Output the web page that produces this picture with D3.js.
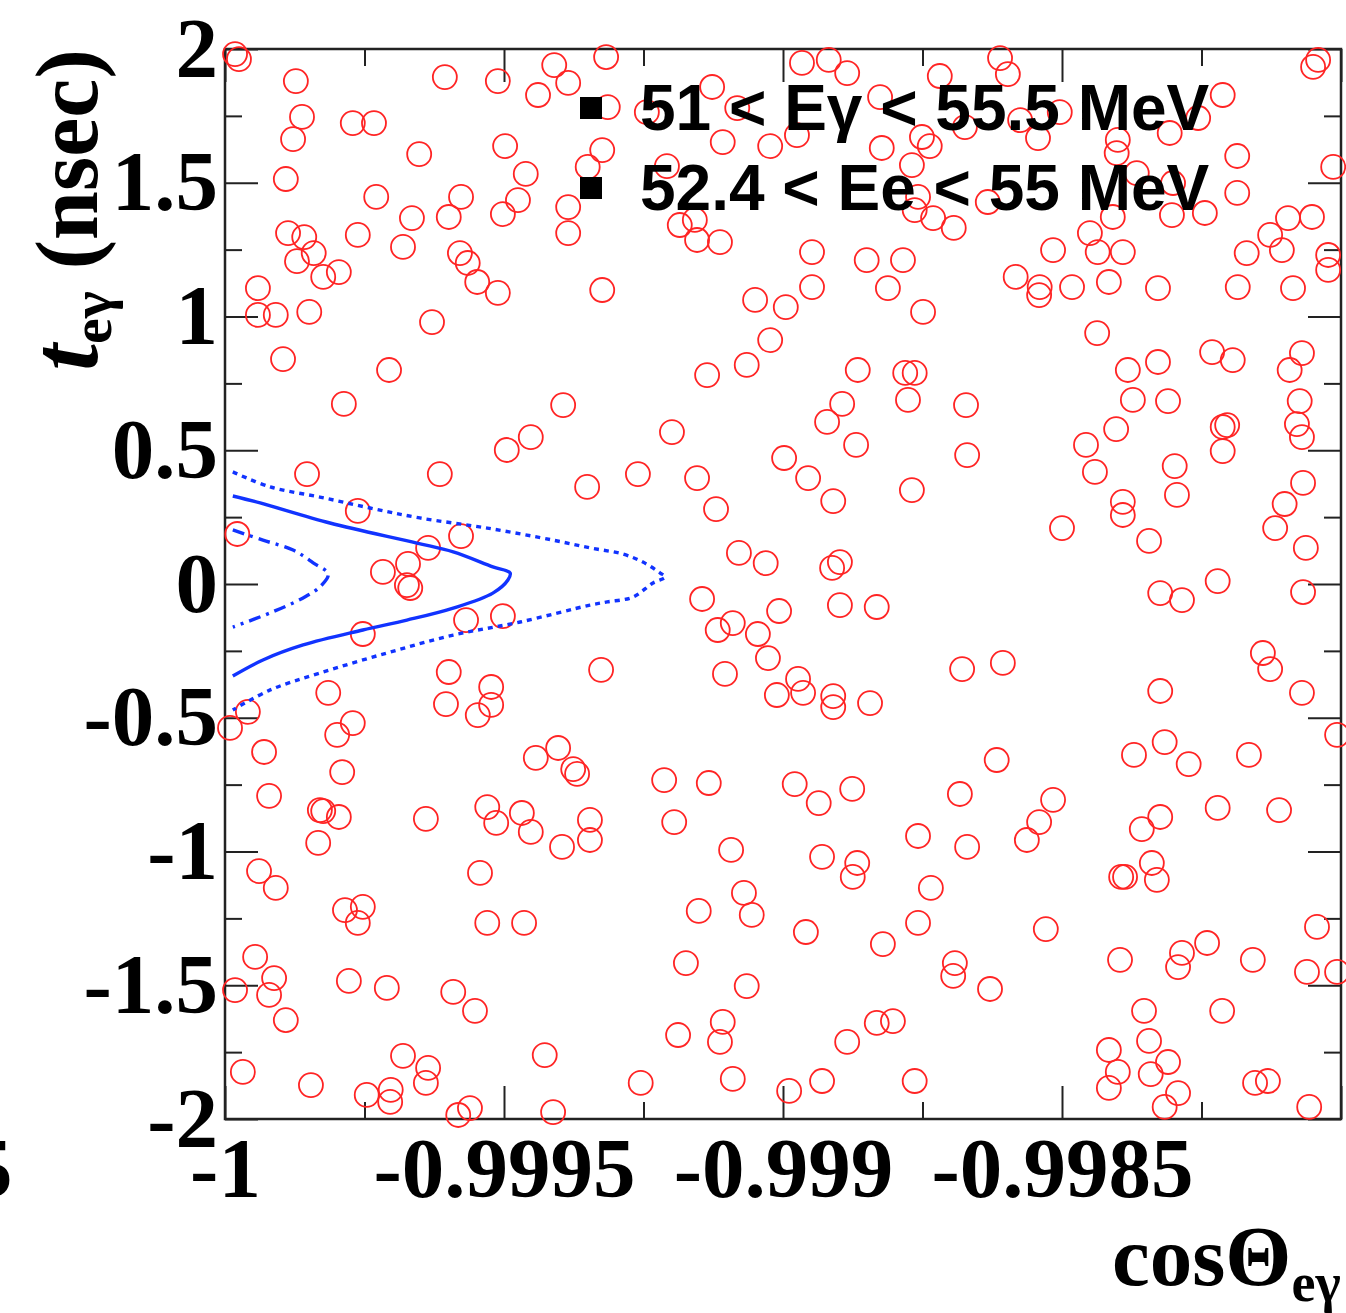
<!DOCTYPE html>
<html lang="en">
<head>
<meta charset="UTF-8">
<title>t_eγ vs cosΘ_eγ</title>
<script src="https://d3js.org/d3.v7.min.js"></script>
<style>
  body { margin: 0; background: #fff; }
  svg { display: block; }
</style>
</head>
<body>
<div id="chart"></div>
<script>
// events: [ (1 + cosΘ_eγ) in units of 1e-4 , t_eγ in nsec ]
var events = [
  [0.18,1.981],[0.25,1.962],[1.27,1.880],[3.94,1.895],[4.89,1.880],[5.90,1.940],[6.15,1.873],[5.61,1.828],
  [1.38,1.746],[2.29,1.723],[2.67,1.723],[1.22,1.663],[3.48,1.607],[5.02,1.637],[6.50,1.559],[5.39,1.533],
  [1.09,1.514],[2.71,1.447],[4.23,1.447],[5.25,1.435],[3.35,1.368],[4.01,1.372],[4.98,1.383],[6.15,1.409],
  [6.15,1.312],[1.13,1.312],[1.42,1.297],[2.38,1.305],[3.19,1.260],[1.59,1.237],[1.29,1.207],[4.21,1.237],
  [4.35,1.200],[4.52,1.129],[4.89,1.088],[1.76,1.148],[2.04,1.166],[0.59,1.106],[0.59,1.006],[0.91,1.006],
  [1.51,1.017],[3.71,0.979],[6.76,1.099],[1.04,0.841],[2.94,0.800],[2.13,0.673],[6.06,0.669],[6.83,1.970],
  // upper middle
  [6.86,1.783],[6.76,1.622],[8.73,1.858],[7.56,1.764],[9.18,1.779],[10.34,1.948],[10.82,1.959],[11.15,1.910],
  [11.74,1.820],[12.81,1.899],[13.26,1.708],[8.92,1.652],[9.77,1.637],[10.25,1.678],[11.77,1.630],[12.49,1.671],
  [12.63,1.637],[12.31,1.566],[7.92,1.562],[12.42,1.447],[12.36,1.398],[12.69,1.368],[13.06,1.331],[8.15,1.342],
  [8.42,1.361],[8.46,1.286],[8.87,1.278],[10.52,1.241],[11.50,1.211],[12.15,1.211],[10.52,1.110],[9.50,1.062],
  [10.05,1.035],[11.88,1.106],[12.51,1.017],[9.77,0.912],[9.35,0.819],[8.64,0.781],[11.34,0.800],[12.19,0.789],
  [12.36,0.789],[12.24,0.688],[11.06,0.673],[13.28,0.669],
  // upper right
  [13.89,1.966],[14.03,1.906],[19.50,1.933],[19.59,1.959],[17.88,1.828],[14.96,1.764],[14.25,1.734],[14.57,1.667],
  [17.44,1.742],[16.93,1.686],[16.00,1.660],[15.98,1.611],[18.14,1.600],[19.86,1.559],[16.34,1.536],[16.99,1.499],
  [18.14,1.462],[13.67,1.428],[15.91,1.372],[16.97,1.379],[17.56,1.387],[15.50,1.312],[14.84,1.248],[15.64,1.241],
  [16.09,1.241],[19.05,1.368],[19.48,1.372],[18.73,1.305],[18.94,1.248],[18.31,1.237],[19.77,1.230],[19.77,1.174],
  [14.17,1.148],[14.60,1.110],[14.59,1.080],[15.18,1.110],[15.84,1.129],[16.72,1.106],[18.15,1.110],[19.14,1.106],
  [15.63,0.938],[17.69,0.867],[18.06,0.837],[19.30,0.863],[19.08,0.800],[16.18,0.800],[16.72,0.830],[16.27,0.688],
  [16.90,0.684],[19.26,0.684],
  // middle left
  [5.48,0.549],[5.05,0.501],[6.49,0.363],[1.47,0.411],[3.85,0.411],[2.38,0.273],[4.23,0.179],[0.22,0.187],
  [3.64,0.135],[3.28,0.075],[2.83,0.045],[3.26,-0.004],[3.32,-0.015],[4.32,-0.135],[4.98,-0.120],[2.47,-0.187],
  [4.01,-0.329],[6.74,-0.321],[1.85,-0.407],[4.77,-0.385],[4.77,-0.452],[4.53,-0.490],[3.96,-0.449],[0.41,-0.478],
  [0.09,-0.538],[2.29,-0.520],[2.01,-0.564],[0.70,-0.628],[5.57,-0.650],[5.97,-0.613],[2.10,-0.703],[6.24,-0.692],
  [6.31,-0.710],
  // middle
  [10.79,0.606],[8.01,0.568],[11.31,0.520],[13.30,0.482],[10.02,0.471],[10.45,0.396],[10.90,0.310],[12.31,0.351],
  [7.40,0.411],[8.46,0.396],[8.80,0.280],[9.21,0.116],[9.69,0.078],[11.02,0.082],[10.88,0.060],[8.55,-0.056],
  [9.93,-0.101],[11.02,-0.079],[11.68,-0.086],[9.10,-0.146],[8.83,-0.172],[9.55,-0.187],[9.73,-0.277],[8.96,-0.336],
  [13.21,-0.318],[10.27,-0.355],[9.89,-0.415],[10.36,-0.407],[10.90,-0.419],[10.90,-0.460],[11.56,-0.445],
  // middle right
  [15.97,0.579],[15.43,0.520],[15.59,0.419],[17.88,0.587],[17.96,0.594],[17.88,0.497],[19.21,0.598],[19.30,0.549],
  [17.02,0.441],[17.06,0.333],[16.09,0.307],[16.09,0.258],[19.32,0.378],[18.99,0.299],[18.82,0.209],[15.00,0.209],
  [16.56,0.161],[19.37,0.135],[17.79,0.011],[16.76,-0.034],[17.15,-0.060],[19.32,-0.030],[18.60,-0.258],[18.73,-0.318],
  [19.30,-0.407],[13.94,-0.295],[16.76,-0.400],[19.93,-0.564],[16.84,-0.591],[16.29,-0.639],[17.27,-0.673],[18.35,-0.639],
  [13.83,-0.658],
  // lower left
  [0.79,-0.792],[1.70,-0.845],[1.76,-0.849],[2.04,-0.871],[1.67,-0.968],[3.60,-0.878],[4.70,-0.834],[4.86,-0.893],
  [5.32,-0.856],[5.48,-0.927],[6.54,-0.882],[6.54,-0.957],[6.04,-0.983],[0.61,-1.073],[0.91,-1.136],[4.57,-1.080],
  [2.15,-1.219],[2.47,-1.207],[2.38,-1.267],[4.70,-1.267],[5.36,-1.267],[0.54,-1.394],[0.88,-1.473],[0.18,-1.518],
  [0.79,-1.536],[1.09,-1.630],[2.22,-1.484],[2.90,-1.510],[4.09,-1.525],[4.48,-1.596],[3.19,-1.764],[3.64,-1.809],
  [3.60,-1.865],[0.32,-1.824],[1.54,-1.873],[2.54,-1.910],[2.97,-1.891],[2.96,-1.936],[4.18,-1.985],[4.39,-1.959],
  [5.73,-1.761],[5.88,-1.974],
  // lower middle
  [7.87,-0.733],[8.67,-0.744],[10.21,-0.748],[10.64,-0.819],[11.24,-0.766],[13.17,-0.785],[8.05,-0.890],[9.07,-0.994],
  [10.70,-1.020],[11.33,-1.043],[11.25,-1.095],[12.42,-0.942],[13.30,-0.983],[12.65,-1.136],[9.30,-1.155],[9.44,-1.237],
  [8.49,-1.222],[10.41,-1.301],[11.79,-1.346],[12.42,-1.267],[8.26,-1.417],[9.35,-1.503],[13.08,-1.417],[13.05,-1.465],
  [8.12,-1.686],[8.92,-1.637],[8.87,-1.712],[11.15,-1.712],[11.68,-1.641],[11.97,-1.634],[7.45,-1.865],[9.10,-1.850],
  [10.11,-1.895],[10.70,-1.858],[12.36,-1.858],
  // lower right
  [14.84,-0.807],[14.59,-0.890],[14.37,-0.957],[17.79,-0.837],[18.89,-0.845],[16.76,-0.871],[16.43,-0.916],[16.61,-1.043],
  [16.70,-1.106],[16.06,-1.095],[16.13,-1.095],[14.71,-1.290],[16.04,-1.405],[17.15,-1.379],[17.08,-1.432],[17.60,-1.342],
  [18.42,-1.405],[19.57,-1.282],[19.39,-1.450],[19.93,-1.450],[13.71,-1.514],[16.47,-1.596],[17.87,-1.596],[15.84,-1.742],
  [16.56,-1.708],[16.00,-1.824],[15.84,-1.884],[16.59,-1.832],[16.90,-1.787],[17.08,-1.903],[16.84,-1.955],[18.46,-1.865],
  [18.69,-1.858],[19.43,-1.955]
];

// signal contours, same units
var contourSolid = [[0.14,0.329],[0.63,0.303],[1.88,0.228],[3.44,0.153],[4.09,0.120],[4.80,0.064],[5.11,0.041],
  [5.07,0.015],[4.80,-0.034],[4.09,-0.090],[3.26,-0.135],[2.47,-0.172],[1.40,-0.228],[0.68,-0.284],[0.14,-0.344]];
var contourDotted = [[0.14,0.419],[0.81,0.363],[1.70,0.325],[2.60,0.284],[3.49,0.247],[4.70,0.209],[5.88,0.164],
  [6.54,0.135],[7.13,0.112],[7.49,0.082],[7.80,0.041],[7.89,0.026],[7.67,0.004],[7.31,-0.049],[6.85,-0.067],
  [6.54,-0.079],[5.29,-0.142],[4.09,-0.191],[2.90,-0.258],[1.70,-0.333],[0.81,-0.396],[0.14,-0.471]];
var contourDashDot = [[0.14,0.202],[0.68,0.164],[1.22,0.127],[1.58,0.079],[1.85,0.037],[1.70,-0.011],
  [1.40,-0.052],[0.81,-0.108],[0.14,-0.161]];

var xMajor = [-1, -0.9995, -0.999, -0.9985, -0.998];
var xMinor = [-0.99975, -0.99925, -0.99875, -0.99825];
var xLabels = ["-1", "-0.9995", "-0.999", "-0.9985", ""];
var yMajor = [-2, -1.5, -1, -0.5, 0, 0.5, 1, 1.5, 2];
var yMinor = [-1.75, -1.25, -0.75, -0.25, 0.25, 0.75, 1.25, 1.75];
var yLabels = ["-2", "-1.5", "-1", "-0.5", "0", "0.5", "1", "1.5", "2"];
var legendLines = ["51 < Eγ < 55.5 MeV", "52.4 < Ee < 55 MeV"];

var margin = {top: 49, right: 5, bottom: 194, left: 225},
    width = 1346 - margin.left - margin.right,
    height = 1313 - margin.top - margin.bottom;

var svg0 = d3.select("#chart").append("svg")
    .attr("width", 1346)
    .attr("height", 1313);
var svg = svg0.append("g")
    .attr("transform", "translate(" + margin.left + "," + margin.top + ")");

var x = d3.scaleLinear().domain([-1, -0.998]).range([0, width]);
var y = d3.scaleLinear().domain([-2, 2]).range([height, 0]);
var toCos = function(u) { return -1 + u * 1e-4; };

var serif = "'Liberation Serif', 'Times New Roman', serif";
var tickColor = "#222";

function styleAxis(g, showText) {
  g.select(".domain").remove();
  g.selectAll("line").attr("stroke", tickColor).attr("stroke-width", 2);
  if (!showText) g.selectAll("text").remove();
  g.selectAll("text")
    .attr("fill", "#000")
    .style("font-family", serif)
    .style("font-weight", "bold")
    .style("font-size", "85px");
}

// x axes (bottom with labels, top without)
svg.append("g").attr("transform", "translate(0," + height + ")")
  .call(d3.axisBottom(x).tickValues(xMajor).tickSize(-33).tickPadding(18)
        .tickFormat(function(d, i) { return xLabels[i]; }))
  .call(styleAxis, true);
svg.append("g").attr("transform", "translate(0," + height + ")")
  .call(d3.axisBottom(x).tickValues(xMinor).tickSize(-17)).call(styleAxis, false);
svg.append("g")
  .call(d3.axisTop(x).tickValues(xMajor).tickSize(-33)).call(styleAxis, false);
svg.append("g")
  .call(d3.axisTop(x).tickValues(xMinor).tickSize(-17)).call(styleAxis, false);

// y axes
svg.append("g")
  .call(d3.axisLeft(y).tickValues(yMajor).tickSize(-33).tickPadding(7)
        .tickFormat(function(d, i) { return yLabels[i]; }))
  .call(styleAxis, true);
svg.append("g")
  .call(d3.axisLeft(y).tickValues(yMinor).tickSize(-17)).call(styleAxis, false);
svg.append("g").attr("transform", "translate(" + width + ",0)")
  .call(d3.axisRight(y).tickValues(yMajor).tickSize(-33)).call(styleAxis, false);
svg.append("g").attr("transform", "translate(" + width + ",0)")
  .call(d3.axisRight(y).tickValues(yMinor).tickSize(-17)).call(styleAxis, false);

// frame
svg.append("rect")
  .attr("width", width).attr("height", height)
  .attr("fill", "none").attr("stroke", tickColor).attr("stroke-width", 2.5);

// events
svg.append("g").selectAll("circle")
  .data(events)
  .enter().append("circle")
    .attr("cx", function(d) { return x(toCos(d[0])); })
    .attr("cy", function(d) { return y(d[1]); })
    .attr("r", 12)
    .attr("fill", "none")
    .attr("stroke", "#ff2424")
    .attr("stroke-width", 1.8);

// contours
var line = d3.line()
  .x(function(d) { return x(toCos(d[0])); })
  .y(function(d) { return y(d[1]); })
  .curve(d3.curveCatmullRom.alpha(0.5));
var contours = [
  {pts: contourSolid, dash: null},
  {pts: contourDotted, dash: "5,5"},
  {pts: contourDashDot, dash: "12,6,3,6"}
];
svg.append("g").selectAll("path")
  .data(contours)
  .enter().append("path")
    .attr("d", function(d) { return line(d.pts); })
    .attr("fill", "none")
    .attr("stroke", "#1133ff")
    .attr("stroke-width", 3.4)
    .attr("stroke-dasharray", function(d) { return d.dash; });

// legend
var leg = svg0.append("g");
legendLines.forEach(function(txt, i) {
  leg.append("rect")
    .attr("x", 580).attr("y", 97 + i * 80)
    .attr("width", 22).attr("height", 22)
    .attr("fill", "#000");
  leg.append("text")
    .attr("x", 640).attr("y", 130 + i * 80)
    .style("font-family", "'Liberation Sans', Arial, sans-serif")
    .style("font-weight", "bold")
    .style("font-size", "64px")
    .text(txt);
});

// y title
var yt = svg0.append("text")
  .attr("transform", "translate(97,210) rotate(-90)")
  .attr("text-anchor", "middle")
  .style("font-family", serif)
  .style("font-weight", "bold")
  .style("font-size", "88px");
yt.append("tspan").style("font-style", "italic").style("font-size", "96px").text("t");
yt.append("tspan").attr("dy", 14).style("font-size", "58px").text("eγ");
yt.append("tspan").attr("dy", -14).text(" (nsec)");

// x title
var xt = svg0.append("text")
  .attr("x", 1112).attr("y", 1285)
  .style("font-family", serif)
  .style("font-weight", "bold")
  .style("font-size", "85px");
xt.append("tspan").text("cosΘ");
xt.append("tspan").attr("dy", 16).style("font-size", "54px").text("eγ");

// clipped label from the neighbouring panel
svg0.append("text")
  .attr("x", -30).attr("y", 1197)
  .style("font-family", serif)
  .style("font-weight", "bold")
  .style("font-size", "85px")
  .text("5");
</script>
</body>
</html>
